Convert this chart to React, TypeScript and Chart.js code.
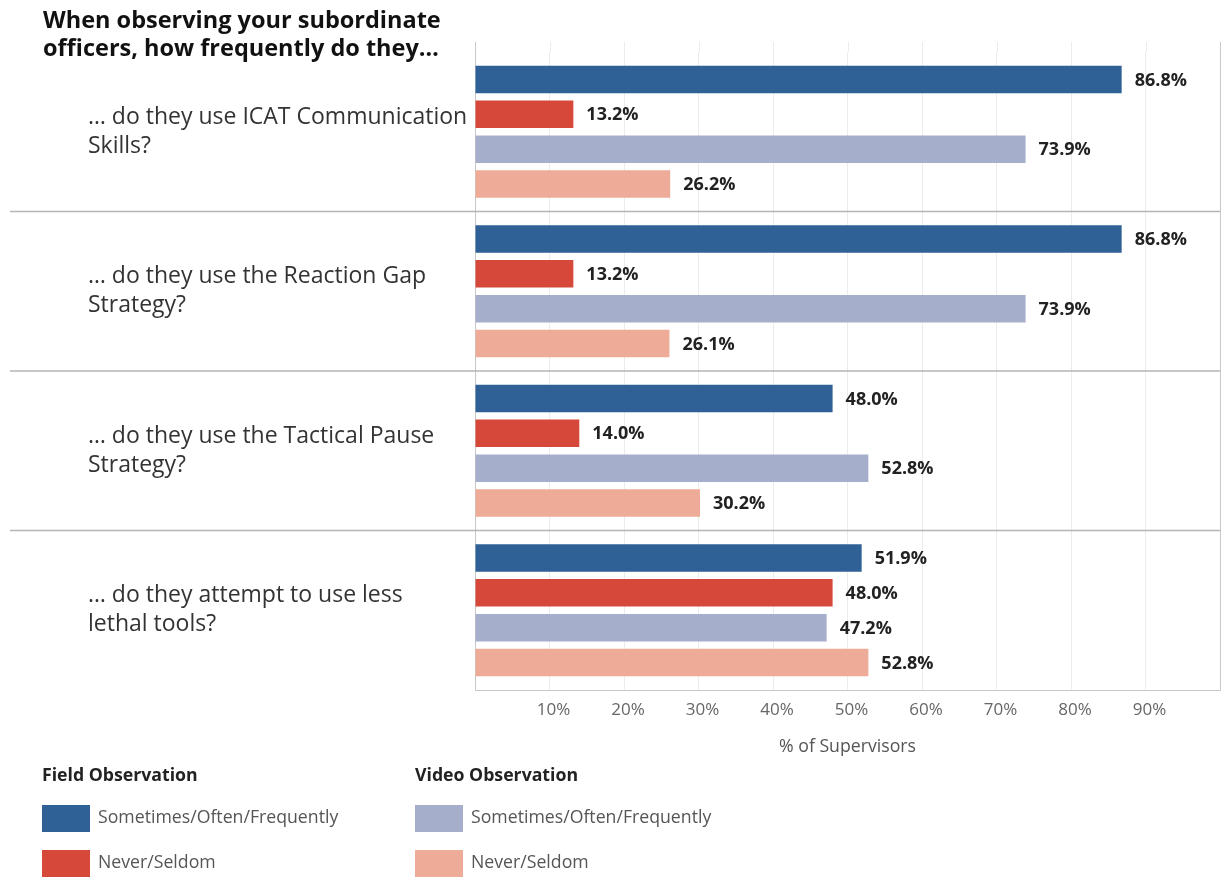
import React, { useEffect, useRef } from 'react';
import { Chart, registerables } from 'chart.js';

Chart.register(...registerables);

const FONT = "'Open Sans', 'Noto Sans', 'DejaVu Sans', sans-serif";

const titleLines = ['When observing your subordinate', 'officers, how frequently do they…'];

const categories = [
  ['… do they use ICAT Communication', 'Skills?'],
  ['… do they use the Reaction Gap', 'Strategy?'],
  ['… do they use the Tactical Pause', 'Strategy?'],
  ['… do they attempt to use less', 'lethal tools?'],
];

const fieldSometimes = [86.8, 86.8, 48.0, 51.9];
const fieldNever = [13.2, 13.2, 14.0, 48.0];
const videoSometimes = [73.9, 73.9, 52.8, 47.2];
const videoNever = [26.2, 26.1, 30.2, 52.8];

const seriesNames = [
  'Sometimes/Often/Frequently',
  'Never/Seldom',
  'Sometimes/Often/Frequently',
  'Never/Seldom',
];
const groupNames = ['Field Observation', 'Video Observation'];
const xTickValues = [10, 20, 30, 40, 50, 60, 70, 80, 90];
const xAxisTitle = '% of Supervisors';

const COLORS = ['#2f6096', '#d6483a', '#a5aecb', '#eeab97'];

export default function App() {
  const ref = useRef<HTMLCanvasElement>(null);

  useEffect(() => {
    document.body.style.margin = '0';
    const canvas = ref.current;
    if (!canvas) return;

    const decor = {
      id: 'decor',
      beforeDatasetsDraw(chart: any) {
        const ctx = chart.ctx;
        const area = chart.chartArea;
        const ys = chart.scales.y;
        const xs = chart.scales.x;
        ctx.save();
        ctx.lineWidth = 1;
        xs.ticks.forEach((t: any) => {
          const px = Math.round(xs.getPixelForValue(t.value)) + 0.5;
          ctx.strokeStyle = t.value === 0 || t.value === 100 ? '#c8c8c8' : '#ececec';
          ctx.beginPath();
          ctx.moveTo(px, 42);
          ctx.lineTo(px, t.value === 100 ? area.bottom : area.top);
          ctx.stroke();
        });
        ctx.strokeStyle = '#b5b5b5';
        ctx.lineWidth = 1.5;
        for (let i = 0; i < categories.length - 1; i++) {
          const y = (ys.getPixelForValue(i) + ys.getPixelForValue(i + 1)) / 2;
          ctx.beginPath();
          ctx.moveTo(10, y);
          ctx.lineTo(area.right, y);
          ctx.stroke();
        }
        ctx.restore();
      },
      afterDatasetsDraw(chart: any) {
        const ctx = chart.ctx;
        ctx.save();
        ctx.font = `bold 18px ${FONT}`;
        ctx.fillStyle = '#222';
        ctx.textAlign = 'left';
        ctx.textBaseline = 'middle';
        chart.data.datasets.forEach((ds: any, i: number) => {
          const meta = chart.getDatasetMeta(i);
          meta.data.forEach((el: any, j: number) => {
            const v = ds.data[j];
            ctx.fillText(v.toFixed(1) + '%', el.x + 13, el.y + 1);
          });
        });
        ctx.restore();
      },
      afterDraw(chart: any) {
        const ctx = chart.ctx;
        ctx.save();
        ctx.textAlign = 'left';
        ctx.textBaseline = 'middle';
        ctx.fillStyle = '#111';
        ctx.font = `bold 23.5px ${FONT}`;
        ctx.fillText(titleLines[0], 43, 21);
        ctx.fillText(titleLines[1], 43, 49);
        const cols = [42, 415];
        cols.forEach((x, g) => {
          ctx.fillStyle = '#222';
          ctx.font = `bold 17.7px ${FONT}`;
          ctx.fillText(groupNames[g], x, 776);
          for (let k = 0; k < 2; k++) {
            const idx = g * 2 + k;
            const top = 805 + k * 45;
            ctx.fillStyle = COLORS[idx];
            ctx.fillRect(x, top, 48, 27);
            ctx.fillStyle = '#555';
            ctx.font = `17.7px ${FONT}`;
            ctx.fillText(seriesNames[idx], x + 56, top + 13);
          }
        });
        ctx.restore();
      },
    };

    const mk = (i: number, data: number[]) => ({
      label: seriesNames[i],
      data,
      backgroundColor: COLORS[i],
      borderWidth: 0,
      categoryPercentage: 0.873,
      barPercentage: 0.79,
    });

    const chart = new Chart(canvas, {
      type: 'bar',
      data: {
        labels: categories as any,
        datasets: [
          mk(0, fieldSometimes),
          mk(1, fieldNever),
          mk(2, videoSometimes),
          mk(3, videoNever),
        ],
      },
      options: {
        indexAxis: 'y',
        responsive: false,
        animation: false,
        layout: { padding: { left: 88, right: 5, top: 52, bottom: 0 } },
        plugins: {
          legend: { display: false },
          tooltip: { enabled: false },
          title: { display: false },
        },
        scales: {
          x: {
            min: 0,
            max: 100,
            afterFit: (s: any) => {
              s.height = 188;
            },
            grid: {
              color: (c: any) => (c.tick && c.tick.value === 100 ? '#c8c8c8' : '#ececec'),
              drawTicks: true,
              tickLength: 10,
              tickColor: 'rgba(0,0,0,0)',
              lineWidth: 1,
            },
            border: { color: '#c8c8c8' },
            ticks: {
              stepSize: 10,
              callback: (v: any) => (xTickValues.includes(Number(v)) ? v + '%' : ''),
              font: { family: FONT, size: 17 },
              color: '#666',
              padding: 0,
              labelOffset: 4,
              maxRotation: 0,
              autoSkip: false,
            },
            title: {
              display: true,
              text: xAxisTitle,
              font: { family: FONT, size: 17.7 },
              color: '#555',
              padding: { top: 0, bottom: 120 },
            },
          },
          y: {
            afterFit: (s: any) => {
              s.width = 387;
            },
            grid: { display: false, drawTicks: false },
            border: { color: '#c8c8c8' },
            ticks: {
              crossAlign: 'far',
              font: { family: FONT, size: 23, lineHeight: 1.27 },
              color: '#333',
              padding: 0,
            },
          },
        },
      } as any,
      plugins: [decor],
    });

    return () => chart.destroy();
  }, []);

  return (
    <div style={{ width: 1225, height: 878, overflow: 'hidden' }}>
      <canvas ref={ref} width={1225} height={878} style={{ display: 'block' }} />
    </div>
  );
}
